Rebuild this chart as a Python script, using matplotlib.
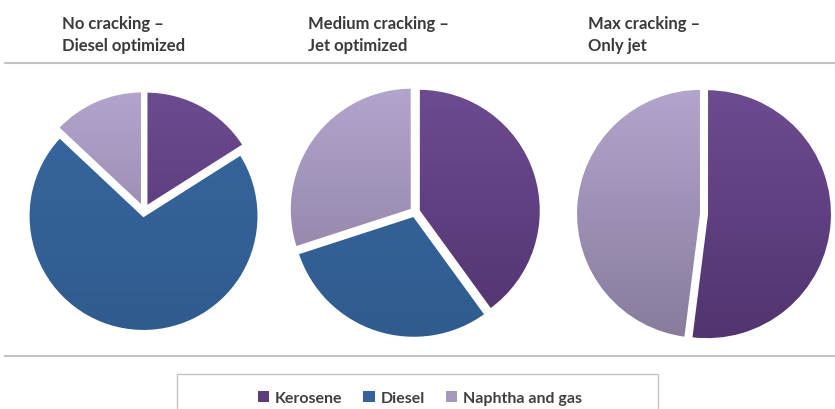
import numpy as np
import matplotlib.pyplot as plt
from matplotlib.patches import Patch, Rectangle
from matplotlib.colors import to_rgb

plt.rcParams['font.family'] = ['Lato', 'DejaVu Sans']

# product yield shares per refinery configuration (%)
categories = ['Kerosene', 'Diesel', 'Naphtha and gas']
titles = ['No cracking –\nDiesel optimized',
          'Medium cracking –\nJet optimized',
          'Max cracking –\nOnly jet']
kerosene = [16, 40, 52]
diesel = [71, 30, 0]
naphtha = [13, 30, 48]

# gradient colours (top, bottom) for each product
grad = {
    'Kerosene': ('#6c4b90', '#523470'),
    'Diesel': ('#36679f', '#305b8f'),
    'Naphtha and gas': ('#b3a4cd', '#877c9c'),
}
legend_colors = ['#5b3d7e', '#36639b', '#a697bd']

W, H = 835, 410
fig = plt.figure(figsize=(W / 100, H / 100), dpi=100)
ax = fig.add_axes([0, 0, 1, 1])

# pie layout in pixel units (x, y from top), radius, explode distance
centers = [(144, 212), (415, 213), (704, 215)]
radii = [115, 122, 125]
explode_px = [5, 4, 3]

for i in range(3):
    vals = [kerosene[i], diesel[i], naphtha[i]]
    keep = [k for k, v in enumerate(vals) if v > 0]
    v = [vals[k] for k in keep]
    names = [categories[k] for k in keep]
    cx, cy = centers[i]
    wedges, _ = ax.pie(v, startangle=90, counterclock=False,
                       center=(cx, H - cy), radius=radii[i],
                       explode=[explode_px[i]] * len(v), frame=True,
                       wedgeprops=dict(facecolor='none', edgecolor='white',
                                       linewidth=1.5, zorder=3))
    for w, name in zip(wedges, names):
        top, bot = np.array(to_rgb(grad[name][0])), np.array(to_rgb(grad[name][1]))
        t = np.linspace(0, 1, 200)[:, None, None]
        img = top * (1 - t) + bot * t
        wx, wy = w.center
        r = w.r
        im = ax.imshow(img, extent=[wx - r, wx + r, wy - r, wy + r],
                       origin='upper', aspect='auto', zorder=2,
                       interpolation='bilinear')
        im.set_clip_path(w)

ax.set_xlim(0, W)
ax.set_ylim(0, H)
ax.axis('off')

# titles
title_x = [62, 308, 588]
for x, t in zip(title_x, titles):
    ax.text(x, H - 16, t, ha='left', va='top', fontsize=12,
            fontweight='bold', color='#3a3a3a', linespacing=1.5)

# separator lines
ax.plot([5, W], [H - 64, H - 64], color='#c4c4c4', lw=1.5, zorder=1)
ax.plot([5, W], [H - 357, H - 357], color='#c4c4c4', lw=1.5, zorder=1)

# legend box
ax.add_patch(Rectangle((177, -5), 481, H - 375 + 5, facecolor='white',
                       edgecolor='#c4c4c4', lw=1.0, zorder=1))
handles = [Patch(facecolor=c, edgecolor='none', label=n)
           for c, n in zip(legend_colors, categories)]
fig.legend(handles=handles, loc='center', bbox_to_anchor=(420 / W, 1 - 399 / H),
           ncol=3, frameon=False, handlelength=0.7,
           handleheight=0.7, handletextpad=0.4, columnspacing=1.3,
           labelcolor='#404040', prop={'size': 11.5, 'weight': 'bold'})

fig.savefig('out.png', dpi=100)
